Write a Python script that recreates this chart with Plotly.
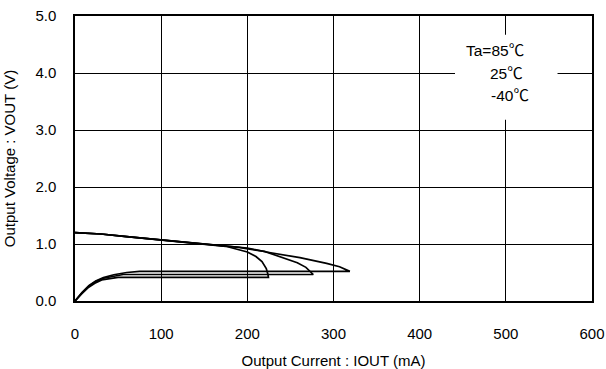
import plotly.graph_objects as go

# Output current (mA) / output voltage (V) for each ambient temperature
temps = ["Ta=85", "25", "-40"]

iout_85 = [0, 30, 60, 100, 145, 175, 200, 210, 217, 222, 224, 224.5, 224.5, 50, 42, 31, 23, 15, 8, 0]
vout_85 = [1.20, 1.175, 1.13, 1.07, 1.00, 0.96, 0.86, 0.78, 0.69, 0.57, 0.46, 0.42, 0.415, 0.415, 0.40, 0.37, 0.31, 0.23, 0.13, 0.0]

iout_25 = [0, 30, 60, 100, 145, 190, 220, 242, 258, 268, 273, 276.5, 276.5, 56, 45, 33, 24, 16, 8, 0]
vout_25 = [1.20, 1.175, 1.13, 1.07, 1.00, 0.94, 0.87, 0.76, 0.67, 0.59, 0.52, 0.47, 0.465, 0.465, 0.44, 0.40, 0.34, 0.26, 0.14, 0.0]

iout_m40 = [0, 30, 60, 100, 145, 200, 222, 261, 292, 307, 319, 75, 60, 45, 33, 24, 16, 8, 0]
vout_m40 = [1.20, 1.175, 1.13, 1.07, 1.00, 0.93, 0.86, 0.76, 0.66, 0.60, 0.52, 0.52, 0.50, 0.46, 0.41, 0.35, 0.27, 0.15, 0.0]

x_ticks = [0, 100, 200, 300, 400, 500, 600]
y_ticks = [0.0, 1.0, 2.0, 3.0, 4.0, 5.0]

font = "Liberation Sans, Arial, sans-serif"
degc = '<span style="font-family:Noto Sans CJK JP">℃</span>'

fig = go.Figure()
for name, xs, ys in [(temps[0], iout_85, vout_85), (temps[1], iout_25, vout_25), (temps[2], iout_m40, vout_m40)]:
    fig.add_trace(go.Scatter(x=xs, y=ys, mode="lines", name=name + "℃",
                             line=dict(color="black", width=1.7), showlegend=False))

# white box behind the temperature labels
fig.add_shape(type="rect", x0=441, x1=560, y0=3.18, y1=4.67,
              fillcolor="white", line=dict(width=0), layer="above")

label_pos = [(451, 4.42), (479, 4.02), (480, 3.63)]
for t, (lx, ly) in zip(temps, label_pos):
    fig.add_annotation(x=lx, y=ly, text=t + degc, showarrow=False, xanchor="left",
                       font=dict(family=font, size=15.5, color="black"))

fig.update_xaxes(range=[0, 600], tickvals=x_ticks, showgrid=True, gridcolor="black", gridwidth=1.3,
                 showline=True, linecolor="black", linewidth=1.5, mirror=True, zeroline=False,
                 automargin=False, ticks="", ticklabelstandoff=18,
                 tickfont=dict(family=font, size=15, color="black"),
                 title=dict(text="Output Current : IOUT (mA)", standoff=16,
                            font=dict(family=font, size=15, color="black")))
fig.update_yaxes(range=[0, 5], tickvals=y_ticks, tickformat=".1f", showgrid=True, gridcolor="black",
                 gridwidth=1.3, showline=True, linecolor="black", linewidth=1.5, mirror=True,
                 zeroline=False, automargin=False, ticks="", ticklabelstandoff=14,
                 tickfont=dict(family=font, size=15, color="black"),
                 title=dict(text="Output Voltage : VOUT (V)", standoff=16,
                            font=dict(family=font, size=15, color="black")))

fig.update_layout(width=606, height=369, margin=dict(l=75, r=14, t=16, b=68),
                  plot_bgcolor="white", paper_bgcolor="white")

# drop the default 8px page margin so the figure fills the window exactly
fig.write_html("out.html", config={"displayModeBar": False},
               post_script="document.body.style.margin='0';")
